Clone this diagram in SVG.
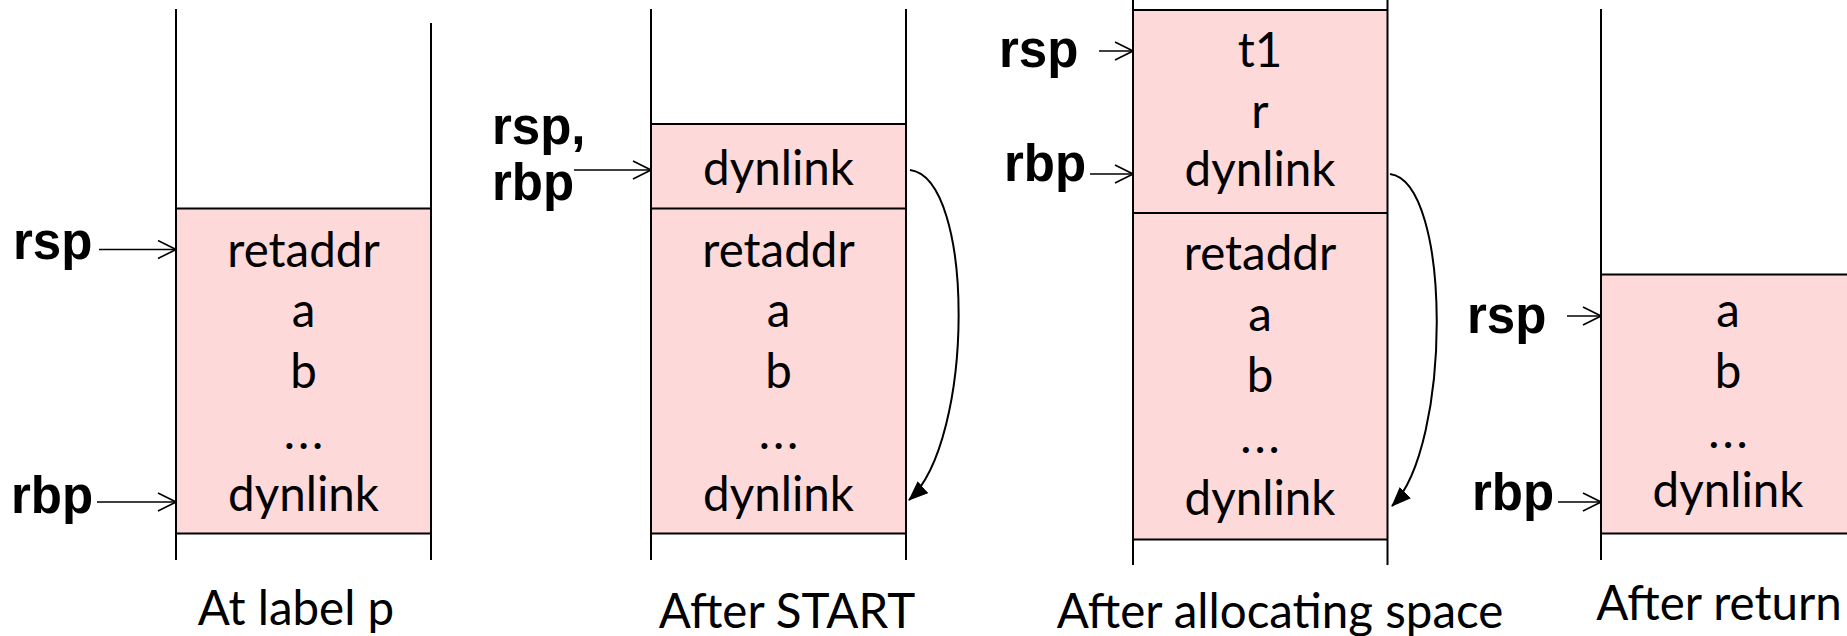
<svg xmlns="http://www.w3.org/2000/svg" width="1847" height="636" viewBox="0 0 1847 636">
<style>
.bg{fill:#ffffff}
.box{fill:#fdd9d9;stroke:none}
.ln{stroke:#000;stroke-width:2;fill:none}
.ptr{stroke:#000;stroke-width:1.6;fill:none;marker-end:url(#open)}
.link{stroke:#000;stroke-width:2;fill:none;marker-end:url(#solid)}
.t{font-family:Lato,"Open Sans","Liberation Sans",sans-serif;font-size:47.5px;fill:#000;text-anchor:middle}
.dots{letter-spacing:3px}
.reg{font-family:"Liberation Sans",Arial,sans-serif;font-weight:bold;font-size:51px;fill:#000}
</style>
<defs>
<marker id="open" viewBox="0 0 20 20" refX="19" refY="10" markerWidth="20" markerHeight="20" markerUnits="userSpaceOnUse" orient="auto">
<path d="M1,1 L19,10 L1,19" fill="none" stroke="#000" stroke-width="1.6"/>
</marker>
<marker id="solid" viewBox="0 0 20 16" refX="19" refY="8" markerWidth="20" markerHeight="16" markerUnits="userSpaceOnUse" orient="auto">
<path d="M0,0 L20,8 L0,16 Z" fill="#000"/>
</marker>
</defs>
<rect class="bg" x="0" y="0" width="1847" height="636"/>

<g id="panel1">
<rect class="box" x="176" y="208.5" width="255" height="325"/>
<line class="ln" x1="176" y1="208.5" x2="431" y2="208.5"/>
<line class="ln" x1="176" y1="533.5" x2="431" y2="533.5"/>
<line class="ln" x1="176" y1="9" x2="176" y2="560"/>
<line class="ln" x1="431" y1="23" x2="431" y2="560"/>
<text class="t" x="303.5" y="267">retaddr</text>
<text class="t" x="303.5" y="327">a</text>
<text class="t" x="303.5" y="388">b</text>
<text class="t dots" x="305" y="449">...</text>
<text class="t" x="303.5" y="511">dynlink</text>
<text class="reg" x="13" y="259">rsp</text>
<text class="reg" x="11" y="513">rbp</text>
<text class="t" x="296" y="625">At label p</text>
</g>

<g id="panel2">
<rect class="box" x="651" y="124" width="255" height="409.5"/>
<line class="ln" x1="651" y1="124" x2="906" y2="124"/>
<line class="ln" x1="651" y1="208.5" x2="906" y2="208.5"/>
<line class="ln" x1="651" y1="533.5" x2="906" y2="533.5"/>
<line class="ln" x1="651" y1="9" x2="651" y2="560"/>
<line class="ln" x1="906" y1="9" x2="906" y2="560"/>
<text class="t" x="778.5" y="185">dynlink</text>
<text class="t" x="778.5" y="267">retaddr</text>
<text class="t" x="778.5" y="327">a</text>
<text class="t" x="778.5" y="388">b</text>
<text class="t dots" x="780" y="449">...</text>
<text class="t" x="778.5" y="511">dynlink</text>
<text class="reg" x="492" y="144">rsp,</text>
<text class="reg" x="492" y="200">rbp</text>
<text class="t" x="787" y="628">After START</text>
</g>

<g id="panel3">
<rect class="box" x="1133" y="10" width="254.5" height="529.5"/>
<line class="ln" x1="1133" y1="10" x2="1387.5" y2="10"/>
<line class="ln" x1="1133" y1="213" x2="1387.5" y2="213"/>
<line class="ln" x1="1133" y1="539.5" x2="1387.5" y2="539.5"/>
<line class="ln" x1="1133" y1="0" x2="1133" y2="565"/>
<line class="ln" x1="1387.5" y1="0" x2="1387.5" y2="565"/>
<text class="t" x="1260" y="67">t1</text>
<text class="t" x="1260" y="128">r</text>
<text class="t" x="1260" y="186">dynlink</text>
<text class="t" x="1260" y="270">retaddr</text>
<text class="t" x="1260" y="331">a</text>
<text class="t" x="1260" y="392">b</text>
<text class="t dots" x="1261.5" y="453">...</text>
<text class="t" x="1260" y="515">dynlink</text>
<text class="reg" x="999" y="67">rsp</text>
<text class="reg" x="1004" y="181">rbp</text>
<text class="t" x="1280" y="628">After allocating space</text>
</g>

<g id="panel4">
<rect class="box" x="1601" y="274.5" width="260" height="259"/>
<line class="ln" x1="1601" y1="274.5" x2="1860" y2="274.5"/>
<line class="ln" x1="1601" y1="533.5" x2="1860" y2="533.5"/>
<line class="ln" x1="1601" y1="9" x2="1601" y2="560"/>
<text class="t" x="1728" y="327">a</text>
<text class="t" x="1728" y="388">b</text>
<text class="t dots" x="1729.5" y="448">...</text>
<text class="t" x="1728" y="507">dynlink</text>
<text class="reg" x="1467" y="333">rsp</text>
<text class="reg" x="1472" y="510">rbp</text>
<text class="t" x="1719" y="620">After return</text>
</g>

<g id="connectors">
<line class="ptr" x1="99" y1="249.5" x2="176" y2="249.5"/>
<line class="ptr" x1="97" y1="502" x2="176" y2="502"/>
<line class="ptr" x1="574" y1="170" x2="651" y2="170"/>
<line class="ptr" x1="1099" y1="51" x2="1133" y2="51"/>
<line class="ptr" x1="1090" y1="174" x2="1133" y2="174"/>
<line class="ptr" x1="1567" y1="316" x2="1601" y2="316"/>
<line class="ptr" x1="1558" y1="502" x2="1601" y2="502"/>
<path class="link" d="M910,170 C975,178 975,440 909,500"/>
<path class="link" d="M1390,174 C1452,182 1452,446 1392,506"/>
</g>
</svg>
